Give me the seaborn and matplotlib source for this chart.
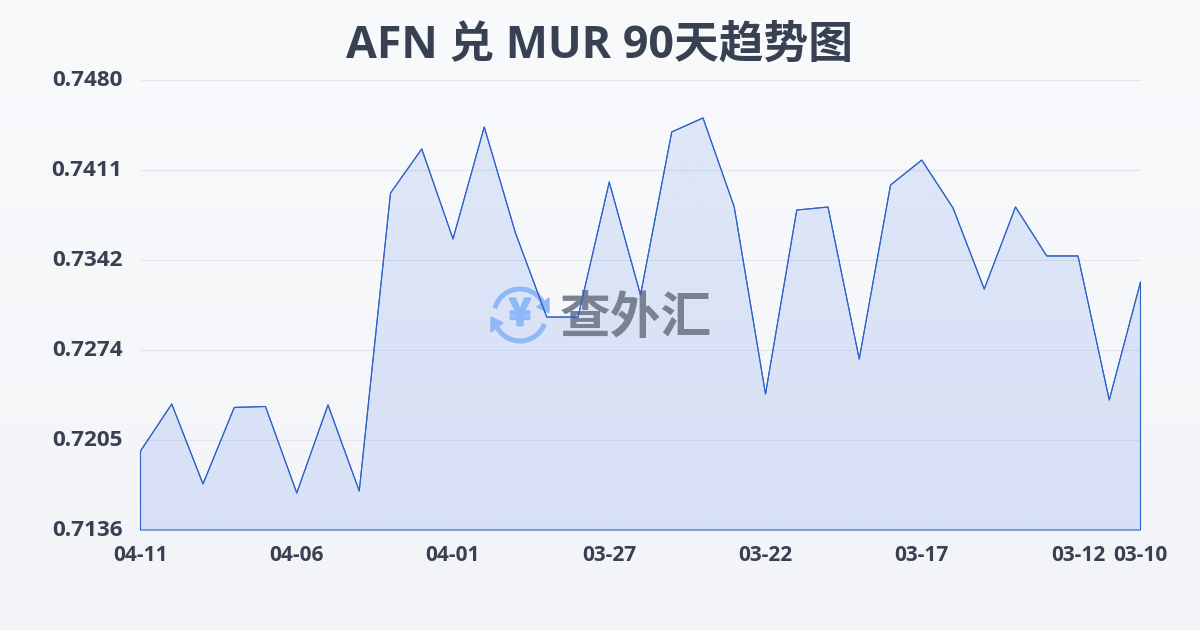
import numpy as np
import pandas as pd
import matplotlib.pyplot as plt
import seaborn as sns
import matplotlib.patheffects as pe
from matplotlib.patches import Arc, Polygon
from matplotlib.transforms import Affine2D, ScaledTranslation

dates = ['04-11', '04-10', '04-09', '04-08', '04-07', '04-06', '04-05', '04-04', '04-03', '04-02', '04-01',
         '03-31', '03-30', '03-29', '03-28', '03-27', '03-26', '03-25', '03-24', '03-23', '03-22',
         '03-21', '03-20', '03-19', '03-18', '03-17', '03-16', '03-15', '03-14', '03-13', '03-12',
         '03-11', '03-10']
rates = [0.71964, 0.72323, 0.71712, 0.72297, 0.72304, 0.71643, 0.72316, 0.71658, 0.73936, 0.74273, 0.73585,
         0.74441, 0.73630, 0.72988, 0.72988, 0.74020, 0.73157, 0.74403, 0.74510, 0.73829, 0.72400,
         0.73806, 0.73829, 0.72667, 0.73997, 0.74188, 0.73822, 0.73202, 0.73829, 0.73455, 0.73455,
         0.72354, 0.73256]
x_ticks = ['04-11', '04-06', '04-01', '03-27', '03-22', '03-17', '03-12', '03-10']
y_ticks = [0.7136, 0.72048, 0.72736, 0.73424, 0.74112, 0.7480]

LINE = '#2f62c8'
TEXT = '#374151'

sns.set_theme(style='white')
plt.rcParams['font.family'] = ['Open Sans', 'Noto Sans CJK SC', 'DejaVu Sans']

df = pd.DataFrame({'date': dates, 'rate': rates})

fig = plt.figure(figsize=(12, 6.3), dpi=100)

# page background
bg = fig.add_axes([0, 0, 1, 1], zorder=0)
bg.axis('off')
grad = np.linspace(0, 1, 256).reshape(-1, 1)
top = np.array([248, 250, 252]) / 255
bottom = np.array([242, 244, 247]) / 255
bg.imshow((top + (bottom - top) * grad[..., None]), aspect='auto', extent=[0, 1, 0, 1])

ax = fig.add_axes([140.5 / 1200, 100 / 630, 1000 / 1200, 450 / 630], zorder=1)
ax.patch.set_alpha(0)

sns.lineplot(data=df, x='date', y='rate', sort=False, color=LINE, linewidth=0.8, ax=ax, zorder=5, clip_on=False)

# area under the line, gradient fill clipped to it
area = ax.fill_between(df['date'], df['rate'], y_ticks[0], facecolor='none', edgecolor=LINE,
                       linewidth=0.8, zorder=4, clip_on=False)
fill = np.zeros((256, 1, 4))
fill[..., :3] = np.array([59, 110, 230]) / 255
fill[..., 3] = np.linspace(0.13, 0.15, 256).reshape(-1, 1)
img = ax.imshow(fill, aspect='auto', extent=[0, len(dates) - 1, y_ticks[0], y_ticks[-1]], zorder=2)
img.set_clip_path(area.get_paths()[0], transform=ax.transData)

ax.set_xlim(0, len(dates) - 1)
ax.set_ylim(y_ticks[0], y_ticks[-1])
ax.set_xticks(x_ticks)
ax.set_yticks(y_ticks)
ax.set_yticklabels([f'{v:.4f}' for v in y_ticks])
ax.set_xlabel('')
ax.set_ylabel('')
ax.grid(axis='y', color='#e3e6ea', linewidth=0.8)
ax.set_axisbelow(True)
for s in ax.spines.values():
    s.set_visible(False)
ax.tick_params(axis='x', length=7, width=0.8, color='#e3e6ea', pad=4, labelsize=15, labelcolor=TEXT)
ax.tick_params(axis='y', length=0, pad=13, labelsize=16.2, labelcolor=TEXT)
for t in ax.get_xticklabels() + ax.get_yticklabels():
    t.set_fontweight('bold')
# y labels sit a little above their grid lines
up = ScaledTranslation(0, 2 / 100, fig.dpi_scale_trans)
for t in ax.get_yticklabels():
    t.set_transform(t.get_transform() + up)

fig.text(600 / 1200, 1 - 46 / 630, 'AFN 兑 MUR 90天趋势图', ha='center', va='center',
         fontsize=32.2, fontweight='bold', color='#374151')

# watermark, placed in pixels from the top left of the picture
px = Affine2D().scale(1, -1).translate(0, 630)
ICON = '#8fb8f6'
ax.add_patch(Arc((520, 315), 52, 52, theta1=195, theta2=335, color=ICON, lw=3.6, transform=px, clip_on=False, zorder=3))
ax.add_patch(Arc((520, 315), 52, 52, theta1=20, theta2=150, color=ICON, lw=3.6, transform=px, clip_on=False, zorder=3))
ax.add_patch(Polygon([[491, 317], [503, 323], [491, 332]], color=ICON, transform=px, clip_on=False, zorder=3))
ax.add_patch(Polygon([[549, 313], [537, 307], [549, 298]], color=ICON, transform=px, clip_on=False, zorder=3))
ax.text(520, 314, '¥', ha='center', va='center', fontsize=27, fontweight='bold', color=ICON,
        family=['Noto Sans CJK SC', 'DejaVu Sans'], transform=px, clip_on=False, zorder=3,
        path_effects=[pe.withStroke(linewidth=1.5, foreground=ICON)])
ax.text(636, 319, '查外汇', ha='center', va='center', fontsize=36.5, fontweight='bold', color='#7a8193',
        family=['Noto Sans CJK SC', 'DejaVu Sans'], transform=px, clip_on=False, zorder=3)

plt.savefig('out.png', dpi=100)
